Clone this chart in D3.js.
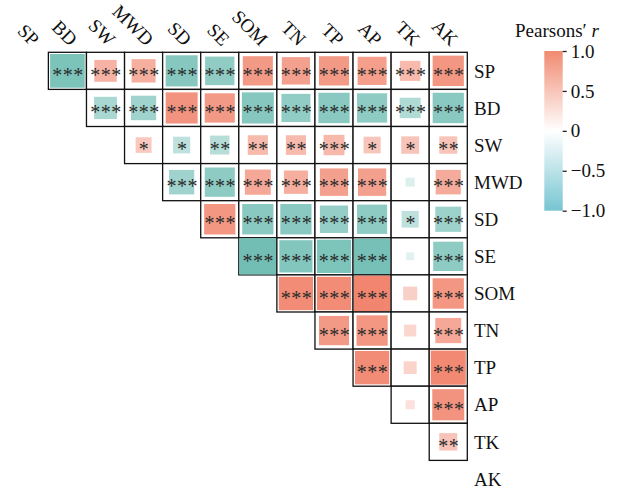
<!DOCTYPE html>
<html>
<head>
<meta charset="utf-8">
<script src="https://cdn.jsdelivr.net/npm/d3@7"></script>
<style>
  body { margin: 0; background: #fff; }
  text { font-family: "Liberation Serif", "Times New Roman", serif; }
</style>
</head>
<body>
<div id="target"></div>
<script>
// variables, in matrix order
const vars = ["SP", "BD", "SW", "MWD", "SD", "SE", "SOM", "TN", "TP", "AP", "TK", "AK"];

// upper triangle of Pearson r, row i holds columns i+1 .. end
const rUpper = [
  [-0.91, 0.59, 0.63, -0.84, -0.77, 0.79, 0.74, 0.79, 0.76, 0.54, 0.82],
  [-0.60, -0.66, 0.84, 0.79, -0.84, -0.76, -0.82, -0.79, -0.55, -0.82],
  [0.42, -0.45, -0.51, 0.53, 0.53, 0.55, 0.45, 0.47, 0.47],
  [-0.66, -0.79, 0.68, 0.63, 0.74, 0.74, -0.24, 0.66],
  [0.82, -0.82, -0.82, -0.74, -0.79, -0.45, -0.68],
  [-0.98, -0.87, -0.90, -0.95, -0.21, -0.79],
  [0.90, 0.90, 0.95, 0.37, 0.82],
  [0.79, 0.82, 0.32, 0.68],
  [0.90, 0.34, 0.92],
  [0.24, 0.84],
  [0.47]
];

// significance marks, same layout
const stars = [
  ["***", "***", "***", "***", "***", "***", "***", "***", "***", "***", "***"],
  ["***", "***", "***", "***", "***", "***", "***", "***", "***", "***"],
  ["*", "*", "**", "**", "**", "***", "*", "*", "**"],
  ["***", "***", "***", "***", "***", "***", "", "***"],
  ["***", "***", "***", "***", "***", "*", "***"],
  ["***", "***", "***", "***", "", "***"],
  ["***", "***", "***", "", "***"],
  ["***", "***", "", "***"],
  ["***", "", "***"],
  ["", "***"],
  ["**"]
];

const legendTicks = [1, 0.5, 0, -0.5, -1];

const W = 619, H = 491;
const svg = d3.select("#target").append("svg")
  .attr("width", W)
  .attr("height", H);

const x = d3.scaleBand().domain(vars).range([10.3, 467.3]);
const y = d3.scaleBand().domain(vars).range([52.3, 497.5]);

const cellColor = d3.scaleLinear()
  .domain([-1, 0, 1])
  .range(["#6fbdb3", "#ffffff", "#f07f67"]);
const barColor = d3.scaleLinear()
  .domain([-1, 0, 1])
  .range(["#76c5d1", "#ffffff", "#f08a70"]);

let cells = [];
rUpper.forEach(function (row, i) {
  row.forEach(function (r, k) {
    let j = i + 1 + k;
    cells.push({row: vars[i], col: vars[j], r: r, s: stars[i][k]});
  });
});

let g = svg.append("g");

let cell = g.selectAll(".cell")
  .data(cells)
  .enter().append("g")
  .attr("class", "cell")
  .attr("transform", d => `translate(${x(d.col)},${y(d.row)})`);

cell.append("rect")
  .attr("width", x.bandwidth())
  .attr("height", y.bandwidth())
  .attr("fill", "#fff")
  .attr("stroke", "#111")
  .attr("stroke-width", 1.3);

cell.append("rect")
  .attr("x", d => (1 - Math.abs(d.r)) * x.bandwidth() / 2)
  .attr("y", d => (1 - Math.abs(d.r)) * y.bandwidth() / 2)
  .attr("width", d => Math.abs(d.r) * x.bandwidth())
  .attr("height", d => Math.abs(d.r) * y.bandwidth())
  .attr("fill", d => cellColor(d.r));

cell.append("text")
  .attr("x", x.bandwidth() / 2 + 0.5)
  .attr("y", y.bandwidth() / 2)
  .attr("dy", "0.56em")
  .attr("text-anchor", "middle")
  .attr("font-size", 20)
  .attr("letter-spacing", 0.5)
  .attr("fill", "#2b2b2b")
  .text(d => d.s);

// column labels, rotated
g.selectAll(".collab")
  .data(vars)
  .enter().append("text")
  .attr("class", "collab")
  .attr("transform", d => `translate(${x(d) + x.bandwidth() / 2 + 2},47) rotate(45)`)
  .attr("text-anchor", "end")
  .attr("font-size", 19)
  .attr("fill", "#111")
  .text(d => d);

// row labels
g.selectAll(".rowlab")
  .data(vars)
  .enter().append("text")
  .attr("class", "rowlab")
  .attr("x", 474)
  .attr("y", d => y(d) + y.bandwidth() / 2)
  .attr("dy", "0.35em")
  .attr("font-size", 19)
  .attr("fill", "#111")
  .text(d => d);

// colour bar legend
const ly = d3.scaleLinear().domain([-1, 1]).range([210.7, 51]);
let defs = svg.append("defs");
let grad = defs.append("linearGradient")
  .attr("id", "bar")
  .attr("x1", "0").attr("y1", "1")
  .attr("x2", "0").attr("y2", "0");
d3.range(-1, 1.001, 0.1).forEach(function (v) {
  grad.append("stop")
    .attr("offset", ((v + 1) / 2 * 100) + "%")
    .attr("stop-color", barColor(v));
});

svg.append("rect")
  .attr("x", 544.3)
  .attr("y", ly(1))
  .attr("width", 18.4)
  .attr("height", ly(-1) - ly(1))
  .attr("fill", "url(#bar)");

let axis = svg.append("g")
  .attr("transform", "translate(562.7,0)")
  .call(d3.axisRight(ly)
    .tickValues(legendTicks)
    .tickSize(4)
    .tickPadding(4)
    .tickFormat(d => d === 0 ? "0" : d3.format(".1f")(d)));
axis.select(".domain").remove();
axis.selectAll("line").attr("stroke", "#222").attr("stroke-width", 1.3);
axis.selectAll("text")
  .attr("font-family", "Liberation Serif, serif")
  .attr("font-size", 19)
  .attr("fill", "#111");

let title = svg.append("text")
  .attr("x", 515)
  .attr("y", 37)
  .attr("font-size", 19)
  .attr("fill", "#111");
title.append("tspan").text("Pearsons′ ");
title.append("tspan").attr("font-style", "italic").text("r");
</script>
</body>
</html>
